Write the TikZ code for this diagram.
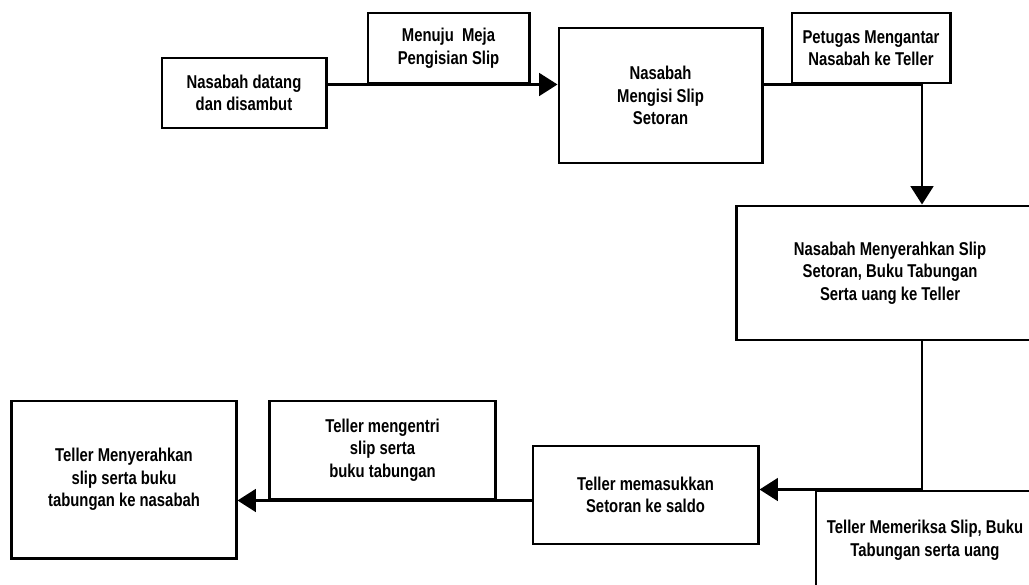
\documentclass[tikz,border=0pt]{standalone}
\usepackage{fontspec}
\setmainfont{Liberation Sans}[FakeStretch=0.8]
\usetikzlibrary{arrows.meta, positioning}

\begin{document}
\begin{tikzpicture}[
  x=0.025cm, y=-0.025cm,
  box/.style={draw, line width=2.1pt, fill=white, align=center, inner sep=2pt,
              font=\fontsize{13.2}{16}\selectfont\bfseries},
  arr/.style={-{Triangle[length=13pt, width=16pt]}, line width=2pt}
]
  \clip (0,0) rectangle (1029,584);

  % Top row
  \node[box, minimum width=4.1cm, minimum height=1.75cm] (datang) at (244,93)
       {Nasabah datang\\dan disambut};
  \node[box, minimum width=5.075cm, minimum height=3.375cm] (mengisi) at (660.5,95.5)
       {Nasabah\\Mengisi Slip\\Setoran};

  % Right column
  \node[box, minimum width=7.65cm, minimum height=3.35cm] (serah) at (890,273)
       {Nasabah Menyerahkan Slip\\Setoran, Buku Tabungan\\Serta uang ke Teller};
  \node[box, minimum width=5.45cm, minimum height=2.45cm] (periksa) at (925,540)
       {Teller Memeriksa Slip, Buku\\Tabungan serta uang};

  % Bottom row
  \node[box, minimum width=5.625cm, minimum height=2.45cm] (masuk) at (645.5,495)
       {Teller memasukkan\\Setoran ke saldo};
  \node[box, minimum width=5.6cm, minimum height=3.925cm] (akhir) at (124,479.5)
       {Teller Menyerahkan\\slip serta buku\\tabungan ke nasabah};

  % Arrow labels
  \node[box, minimum width=4.025cm, minimum height=1.75cm] (menuju) at (448.5,48)
       {Menuju~ Meja\\Pengisian Slip};
  \node[box, minimum width=3.95cm, minimum height=1.75cm] (antar) at (871,48)
       {Petugas Mengantar\\Nasabah ke Teller};
  \node[box, minimum width=5.625cm, minimum height=2.45cm] (entri) at (382.5,450)
       {Teller mengentri\\slip serta\\buku tabungan};

  % Arrows
  \draw[arr] (datang.east |- menuju.south) -- (mengisi.west |- menuju.south);
  \draw[arr] (mengisi.east |- antar.south) -| ([xshift=0.8cm]serah.north);
  \draw[arr] ([xshift=0.8cm]serah.south) |- (masuk.east |- periksa.north);
  \draw[arr] (masuk.west |- entri.south) -- (akhir.east |- entri.south);
\end{tikzpicture}
\end{document}
